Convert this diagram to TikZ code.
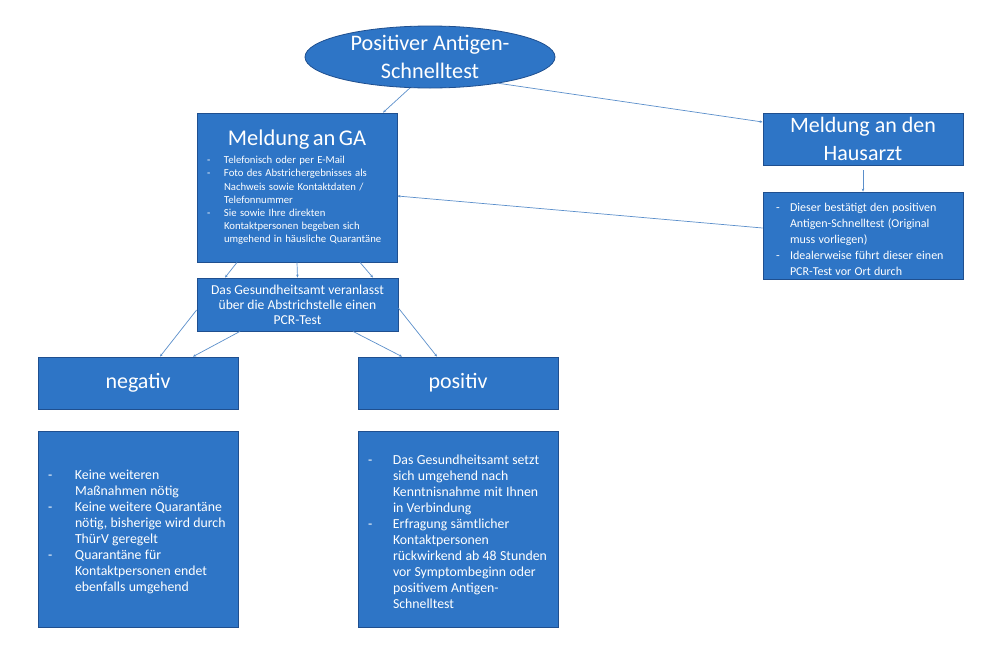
\documentclass[tikz,border=0pt]{standalone}
\usepackage{fontspec}
\setmainfont{Carlito}
\usetikzlibrary{shapes.geometric,arrows.meta}
\definecolor{boxfill}{HTML}{2E75C6}
\definecolor{boxline}{HTML}{1F4F8F}
\definecolor{conn}{HTML}{5B8FCB}
\newcommand{\dashitem}[3]{\par\noindent\hangindent=#2\hangafter=1\makebox[#2][l]{\hspace{#1}-}#3\par}
\begin{document}
\begin{tikzpicture}[x=1pt,y=-1pt,
  blbox/.style={draw=boxline, line width=0.8pt, fill=boxfill, text=white, inner sep=0pt, rectangle},
  conline/.style={draw=conn, line width=0.7pt, -{Stealth[length=3pt,width=2.5pt]}}]
\useasboundingbox (0,0) rectangle (1000,651);
\fill[white] (0,0) rectangle (1000,651);

\node[blbox, ellipse, minimum width=250pt, minimum height=62pt, align=center,
  font=\fontsize{22.2}{28}\selectfont] (top) at (430,57) {Positiver Antigen-\\Schnelltest};

\node[blbox, minimum width=200pt, minimum height=149pt, text width=200pt] (ga) at (297,187.5)
 {\hyphenpenalty=10000{\centering\fontsize{22.5}{26}\selectfont Meldung an GA\par}\vspace{4.5pt}
  \fontsize{10.7}{13.2}\selectfont\raggedright
  \dashitem{10pt}{27pt}{Telefonisch oder per E-Mail}
  \dashitem{10pt}{27pt}{Foto des Abstrichergebnisses als\newline Nachweis sowie Kontaktdaten /\newline Telefonnummer}
  \dashitem{10pt}{27pt}{Sie sowie Ihre direkten\newline Kontaktpersonen begeben sich\newline umgehend in häusliche Quarantäne}};

\node[blbox, minimum width=200pt, minimum height=52pt, align=center,
  font=\fontsize{22}{28}\selectfont] (ha) at (863,139) {Meldung an den\\Hausarzt};

\node[blbox, minimum width=200pt, minimum height=87pt, text width=200pt] (had) at (863,235.5)
 {\hyphenpenalty=10000\fontsize{12}{16}\selectfont\raggedright
  \dashitem{13pt}{27pt}{Dieser bestätigt den positiven\newline Antigen-Schnelltest (Original\newline muss vorliegen)}
  \dashitem{13pt}{27pt}{Idealerweise führt dieser einen\newline PCR-Test vor Ort durch}};

\node[blbox, minimum width=201pt, minimum height=53pt, align=center,
  font=\fontsize{13.6}{15}\selectfont] (pcr) at (297.5,304.5)
  {Das Gesundheitsamt veranlasst\\über die Abstrichstelle einen\\PCR-Test};

\node[blbox, minimum width=200pt, minimum height=52pt,
  font=\fontsize{22}{26}\selectfont] (neg) at (138,383) {negativ};
\node[blbox, minimum width=200pt, minimum height=52pt,
  font=\fontsize{22}{26}\selectfont] (pos) at (458,383) {positiv};

\node[blbox, minimum width=200pt, minimum height=196pt, text width=200pt] (negd) at (138,529)
 {\hyphenpenalty=10000\fontsize{13.8}{16}\selectfont\raggedright
  \dashitem{10pt}{37pt}{Keine weiteren\newline Maßnahmen nötig}
  \dashitem{10pt}{37pt}{Keine weitere Quarantäne\newline nötig, bisherige wird durch\newline ThürV geregelt}
  \dashitem{10pt}{37pt}{Quarantäne für\newline Kontaktpersonen endet\newline ebenfalls umgehend}};

\node[blbox, minimum width=200pt, minimum height=196pt, text width=200pt] (posd) at (458,529)
 {\hyphenpenalty=10000\fontsize{13.8}{16}\selectfont\raggedright
  \dashitem{10pt}{35pt}{Das Gesundheitsamt setzt\newline sich umgehend nach\newline Kenntnisnahme mit Ihnen\newline in Verbindung}
  \dashitem{10pt}{35pt}{Erfragung sämtlicher\newline Kontaktpersonen\newline rückwirkend ab 48 Stunden\newline vor Symptombeginn oder\newline positivem Antigen-\newline Schnelltest}};

% connectors
\draw[conline] (top.237) -- ([xshift=86pt]ga.north);
\draw[conline] (top.339) -- ([yshift=17pt]ha.west);
\draw[conline] ([yshift=7.5pt]had.west) -- ([yshift=-8.5pt]ga.east);
\draw[conline] ([yshift=-5pt]ha.south) -- (had.north);
\draw[conline] ([xshift=-60pt]ga.south) -- ([xshift=-72.5pt]pcr.north);
\draw[conline] (ga.south) -- (pcr.north);
\draw[conline] ([xshift=63pt]ga.south) -- ([xshift=75.5pt]pcr.north);
\draw[conline] ([yshift=-5.5pt]pcr.west) -- ([xshift=22pt]neg.north);
\draw[conline] ([xshift=-57.5pt]pcr.south) -- ([xshift=55pt]neg.north);
\draw[conline] ([xshift=55.5pt]pcr.south) -- ([xshift=-56pt]pos.north);
\draw[conline] ([yshift=-3.5pt]pcr.east) -- ([xshift=-21pt]pos.north);
\end{tikzpicture}
\end{document}
